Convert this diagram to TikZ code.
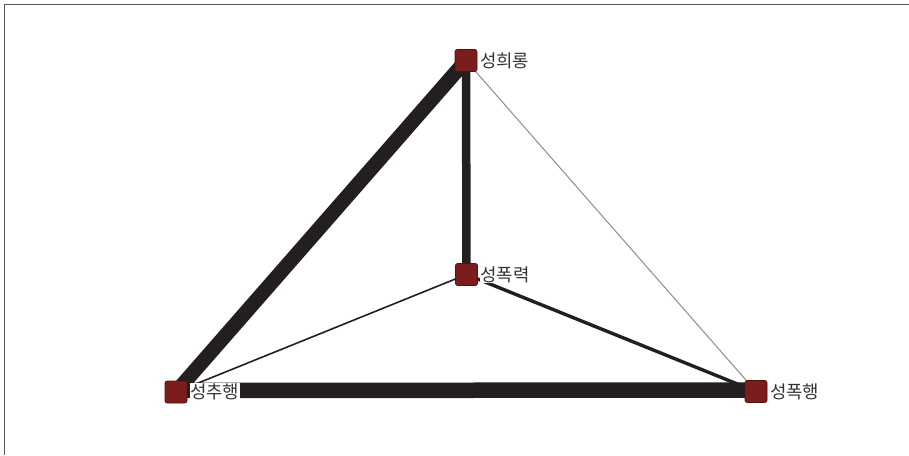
\documentclass[tikz,border=0pt]{standalone}
\usepackage{fontspec}
\newfontfamily\kr{Noto Sans CJK KR}
\definecolor{nodered}{RGB}{125,28,28}
\definecolor{edgeblack}{RGB}{35,31,32}
\pgfdeclarelayer{bg}
\pgfsetlayers{bg,main}
\begin{document}
\begin{tikzpicture}[x=1pt,y=-1pt,
  sq/.style={draw=nodered!65!black, line width=0.6pt, fill=nodered, rounded corners=2pt, minimum size=22pt, inner sep=0pt},
  lbl/.style={anchor=west, fill=white, inner sep=0.5pt, font=\kr\fontsize{17.8}{17.8}\selectfont, text=black!80},
  e/.style={draw=edgeblack}]
\useasboundingbox (0,0) rectangle (909,455);
\draw[black!65, line width=1.3pt] (4.7,455) -- (4.7,4.7) -- (909,4.7);
\node[sq] (h) at (466,60.5) {};
\node[sq] (p) at (466.5,274.5) {};
\node[sq] (c) at (176,392) {};
\node[sq] (w) at (756,391.5) {};
\begin{pgfonlayer}{bg}
\draw[e, line width=14.5pt] (h.center) -- (c.center);
\draw[e, line width=15.5pt] ([yshift=1.5pt]c.center) -- ([yshift=1.5pt]w.center);
\draw[e, line width=8.5pt] (h.center) -- (p.center);
\draw[e, line width=3.4pt] (p.center) -- (w.center);
\draw[e, line width=1.6pt] (p.center) -- (c.center);
\draw[draw=black!45, line width=1pt] (h.center) -- (w.center);
\end{pgfonlayer}
\node[lbl] (hl) at ([xshift=2pt]h.east) {성희롱};
\node[lbl] (pl) at ([xshift=2pt]p.east) {성폭력};
\node[lbl] (cl) at ([xshift=2pt]c.east) {성추행};
\node[lbl] (wl) at ([xshift=2pt]w.east) {성폭행};
\end{tikzpicture}
\end{document}
